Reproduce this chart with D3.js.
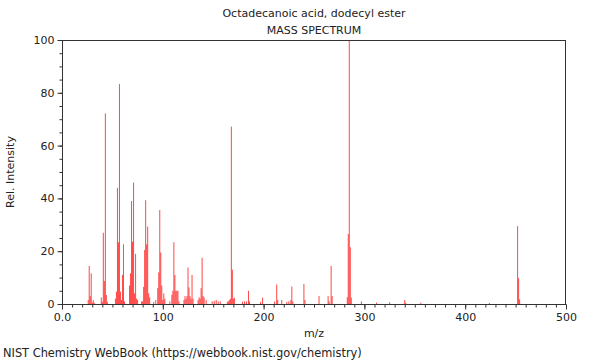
<!DOCTYPE html>
<html><head><meta charset="utf-8">
<script src="https://cdn.jsdelivr.net/npm/d3@7"></script>
<style>
html,body{margin:0;padding:0;background:#fff;}
text{font-family:"DejaVu Sans",sans-serif;fill:#222;}
</style></head>
<body><svg id="c" width="600" height="360"></svg>
<script>
const title = "Octadecanoic acid, dodecyl ester";
const subtitle = "MASS SPECTRUM";
const xLabel = "m/z";
const yLabel = "Rel. Intensity";
const footer = "NIST Chemistry WebBook (https://webbook.nist.gov/chemistry)";
const xTicks = [0, 100, 200, 300, 400, 500];
const xTickLabels = ["0.0", "100", "200", "300", "400", "500"];
const yTicks = [0, 20, 40, 60, 80, 100];
const mz = [26,27,28,29,30,31,32,39,40,41,42,43,44,45,53,54,55,56,57,58,59,60,61,62,
  67,68,69,70,71,72,73,74,75,79,80,81,82,83,84,85,86,87,91,93,95,96,97,98,99,100,101,102,
  107,109,110,111,112,113,114,115,116,121,122,123,124,125,126,127,128,129,130,135,136,137,138,139,140,141,143,
  149,151,153,155,157,164,165,166,167,168,169,170,171,179,181,183,185,186,197,199,211,213,214,218,223,225,227,228,229,
  240,241,255,264,265,267,268,283,284,285,286,287,297,312,325,340,341,356,424,452,453,454];
const intensity = [1.5,14.4,3,11.6,0.5,1.5,0.5,2.5,0.8,27,8.7,72.2,3.4,0.8,2,4.7,44,23.4,83.3,4.7,1.5,11,22.6,1,
  7,11.6,39,23.6,46,4,19,2,1.5,1,1,6.5,20.5,39.3,22.6,29.3,4,2.5,0.8,1.5,6,12,35.6,19.5,7,1.5,4,2,
  1,3.5,5,23.4,11,5,5,5,1,1.5,3,2,3,13.8,6.3,3,2,11,2,1.5,2.5,2,6,17.5,3,2.5,1.5,
  1,1.2,1.5,1,1,0.8,1,1.5,2,67.2,13,2,2.4,0.8,1,1,5,1,0.8,2.4,1,7.4,1.5,1.5,0.8,1,1.5,6.6,1,
  7.6,1.5,3,3,1,14.4,3,2.6,26.5,100,21.5,2.4,1,0.5,0.7,1.5,0.5,0.5,0.4,29.5,9.8,1.8];

const svg = d3.select("#c");
const m = {left: 62, right: 566, top: 40, bottom: 304};
const x = d3.scaleLinear().domain([0, 500]).range([m.left, m.right]);
const y = d3.scaleLinear().domain([0, 100]).range([m.bottom, m.top]);
const axisCol = "#333";

// peaks
svg.append("g").selectAll("line").data(mz.map((d,i)=>({m:d, v:intensity[i]})))
  .join("line")
  .attr("x1", d=>x(d.m)).attr("x2", d=>x(d.m))
  .attr("y1", y(0)).attr("y2", d=>y(d.v))
  .attr("stroke", "#ff0000").attr("stroke-opacity", 0.72).attr("stroke-width", 1);

// frame
svg.append("rect").attr("x", m.left+0.5).attr("y", m.top+0.5)
  .attr("width", m.right-m.left-1).attr("height", m.bottom-m.top)
  .attr("fill", "none").attr("stroke", axisCol).attr("stroke-width", 1);

// x axis
const xa = svg.append("g").attr("transform", `translate(0,${m.bottom+0.5})`);
xa.call(d3.axisBottom(x).tickValues(d3.range(0, 501, 10)).tickSize(3).tickFormat(""))
  .call(g=>g.select(".domain").remove())
  .call(g=>g.selectAll("line").attr("stroke", axisCol));
const xb = svg.append("g").attr("transform", `translate(0,${m.bottom+0.5})`);
xb.call(d3.axisBottom(x).tickValues(xTicks).tickSize(5).tickPadding(4)
    .tickFormat((d,i)=>xTickLabels[i]))
  .call(g=>g.select(".domain").remove())
  .call(g=>g.selectAll("line").attr("stroke", axisCol))
  .call(g=>g.selectAll("text").attr("font-size", 11).attr("font-family", "DejaVu Sans").attr("fill", "#222"));

// y axis
const ya = svg.append("g").attr("transform", `translate(${m.left+0.5},0)`);
ya.call(d3.axisLeft(y).tickValues(d3.range(0, 101, 5)).tickSize(3).tickFormat(""))
  .call(g=>g.select(".domain").remove())
  .call(g=>g.selectAll("line").attr("stroke", axisCol));
const yb = svg.append("g").attr("transform", `translate(${m.left+0.5},0)`);
yb.call(d3.axisLeft(y).tickValues(yTicks).tickSize(5).tickPadding(3))
  .call(g=>g.select(".domain").remove())
  .call(g=>g.selectAll("line").attr("stroke", axisCol))
  .call(g=>g.selectAll("text").attr("font-size", 11).attr("font-family", "DejaVu Sans").attr("fill", "#222"));

// texts
svg.append("text").attr("x", 314).attr("y", 17).attr("text-anchor", "middle").attr("font-size", 11).text(title);
svg.append("text").attr("x", 314).attr("y", 34).attr("text-anchor", "middle").attr("font-size", 11).text(subtitle);
svg.append("text").attr("x", 314).attr("y", 337).attr("text-anchor", "middle").attr("font-size", 11).text(xLabel);
svg.append("text").attr("transform", "translate(14,172) rotate(-90)").attr("text-anchor", "middle").attr("font-size", 11).text(yLabel);
svg.append("text").attr("x", 3).attr("y", 357).attr("font-size", 11.4).text(footer);
</script></body></html>
